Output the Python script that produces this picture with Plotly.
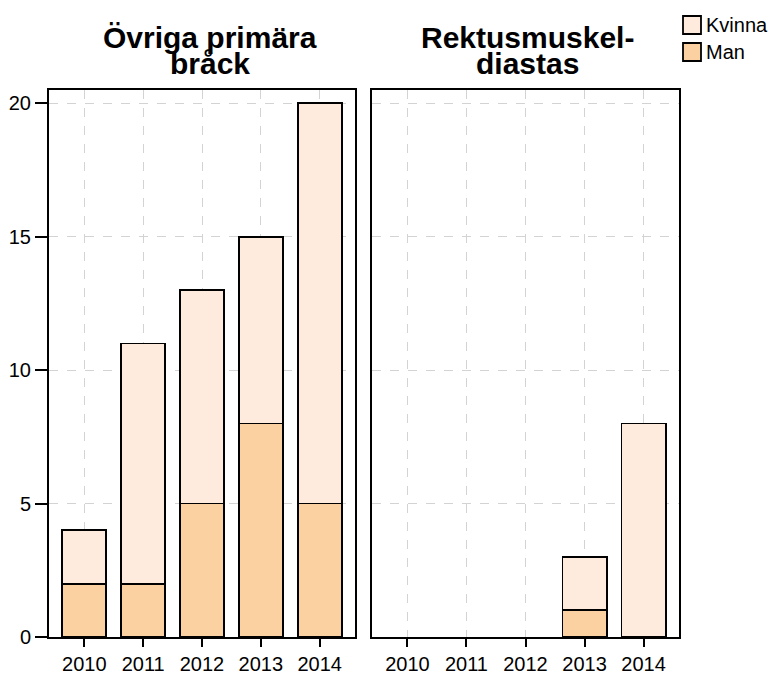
import plotly.graph_objects as go
from plotly.subplots import make_subplots

years = ["2010", "2011", "2012", "2013", "2014"]
panel_titles = [["Övriga primära", "bråck"], ["Rektusmuskel-", "diastas"]]
series_names = ["Kvinna", "Man"]
man_left = [2, 2, 5, 8, 5]
kvinna_left = [2, 9, 8, 7, 15]
man_right = [None, None, None, 1, None]
kvinna_right = [None, None, None, 2, 8]

c_kvinna = "#FEEBDD"
c_man = "#FCD1A2"
FONT = "Liberation Sans, Arial, Helvetica"

fig = make_subplots(rows=1, cols=2, shared_yaxes=False)

for col, (m, k) in enumerate([(man_left, kvinna_left), (man_right, kvinna_right)], start=1):
    fig.add_trace(go.Bar(x=years, y=m, name="Man", marker=dict(color=c_man, line=dict(color="black", width=1.8)),
                         width=0.75, showlegend=False), row=1, col=col)
    fig.add_trace(go.Bar(x=years, y=k, name="Kvinna", marker=dict(color=c_kvinna, line=dict(color="black", width=1.8)),
                         width=0.75, showlegend=False), row=1, col=col)

axis_common = dict(showline=True, linecolor="black", linewidth=2, mirror=True,
                   showgrid=True, gridcolor="#D3D3D3", griddash="dash", gridwidth=1,
                   zeroline=False, tickcolor="black",
                   tickfont=dict(family=FONT, size=20, color="black"))

# page body has an 8px default margin, so the figure is made 8px smaller
fig.update_layout(
    barmode="stack",
    width=769, height=665,
    margin=dict(l=41, r=98, t=82, b=36, autoexpand=False),
    paper_bgcolor="white", plot_bgcolor="white",
    font=dict(family=FONT, color="black"),
    showlegend=False,
    xaxis=dict(domain=[0, 306/630], range=[-0.6, 4.6], ticks="outside", ticklen=8, tickwidth=2, **axis_common),
    xaxis2=dict(domain=[323/630, 1], range=[-0.6, 4.6], ticks="outside", ticklen=8, tickwidth=2, **axis_common),
    yaxis=dict(range=[0, 20.5], tickvals=[0, 5, 10, 15, 20], ticks="outside", ticklen=12, tickwidth=2, **axis_common),
    yaxis2=dict(range=[0, 20.5], tickvals=[0, 5, 10, 15, 20], showticklabels=False, ticks="", **axis_common),
)

def py(px):
    return (637 - px) / 547

def pxx(px):
    return (px - 49) / 630

centers = [pxx(210), pxx(527)]
for cx, lines in zip(centers, panel_titles):
    for ypix, t in zip([37, 64], lines):
        fig.add_annotation(x=cx, y=py(ypix), xref="paper", yref="paper", xanchor="center", yanchor="middle",
                           text="<b>" + t + "</b>", showarrow=False,
                           font=dict(size=30, family=FONT, color="black"))

# legend (drawn manually to match symbol size)
for name, color, ymid in zip(series_names, [c_kvinna, c_man], [25, 52]):
    fig.add_shape(type="rect", xref="paper", yref="paper",
                  x0=pxx(683), x1=pxx(701), y0=py(ymid + 9), y1=py(ymid - 9),
                  fillcolor=color, line=dict(color="black", width=1.8))
    fig.add_annotation(x=pxx(704), y=py(ymid), xref="paper", yref="paper", xanchor="left", yanchor="middle",
                       text=name, showarrow=False, font=dict(size=20, family=FONT, color="black"))

fig.write_html("out.html")
